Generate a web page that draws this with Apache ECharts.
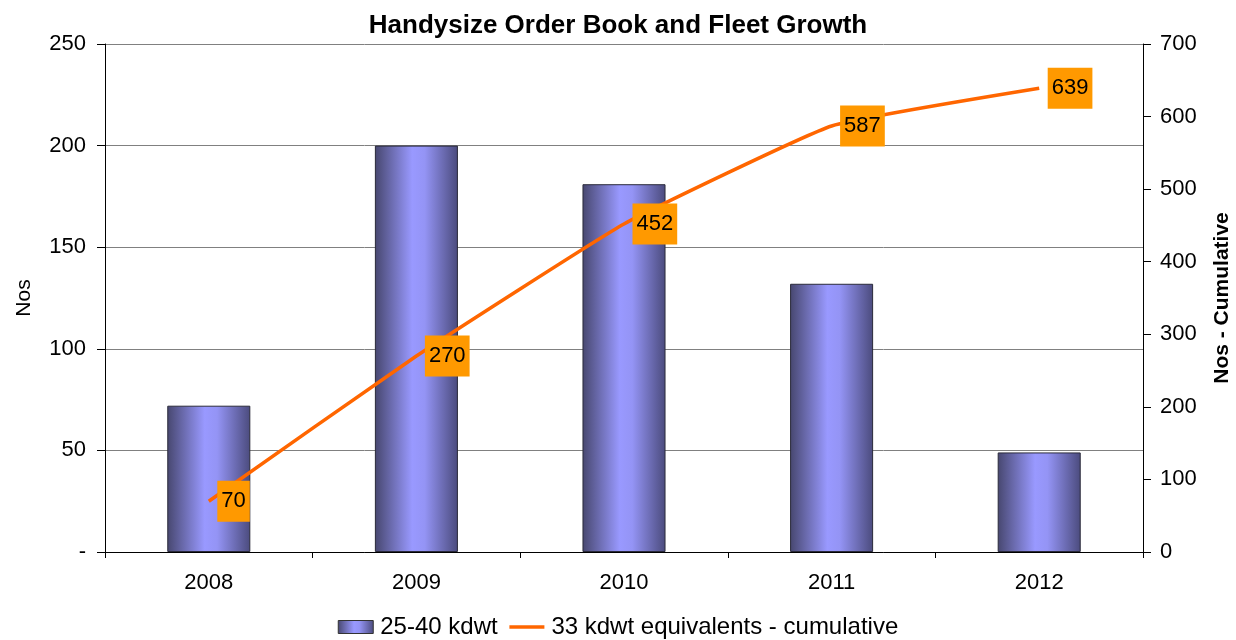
<!DOCTYPE html>
<html lang="en">
<head>
    <meta charset="UTF-8">
    <title>Handysize Order Book and Fleet Growth</title>
    <script src="https://cdn.jsdelivr.net/npm/echarts@6/dist/echarts.min.js"></script>
    <style>
        html, body { margin: 0; padding: 0; background: #fff; }
        #main { width: 1236px; height: 640px; }
    </style>
</head>
<body>
    <div id="main"></div>
    <script>
        var years = ['2008', '2009', '2010', '2011', '2012'];
        var orderBook = [72, 200, 181, 132, 49];
        var cumulative = [70, 270, 452, 587, 639];
        var leftTicks = ['-', '50', '100', '150', '200', '250'];

        var font = '"Liberation Sans", Arial, sans-serif';

        var barFill = new echarts.graphic.LinearGradient(0, 0, 1, 0, [
            { offset: 0, color: '#47476f' },
            { offset: 0.45, color: '#9999ff' },
            { offset: 0.6, color: '#9494f5' },
            { offset: 1, color: '#4b4b7d' }
        ]);

        var myChart = echarts.init(document.getElementById('main'));
        var option = {
            animation: false,
            textStyle: { fontFamily: font },
            title: {
                text: 'Handysize Order Book and Fleet Growth',
                left: 'center',
                top: 8,
                textStyle: { fontSize: 26, fontWeight: 'bold', color: '#000', fontFamily: font }
            },
            legend: {
                top: 610,
                left: 'center',
                itemGap: 10,
                itemWidth: 35,
                itemHeight: 13,
                textStyle: { fontSize: 24, color: '#000', fontFamily: font, padding: [0, 0, 0, 2] },
                data: [
                    { name: '25-40 kdwt', icon: 'rect', itemStyle: { color: barFill, borderColor: '#333', borderWidth: 1 } },
                    {
                        name: '33 kdwt equivalents - cumulative',
                        itemStyle: { color: 'rgba(0,0,0,0)', borderWidth: 0, opacity: 0 },
                        lineStyle: { color: '#ff6600', width: 3.5 }
                    }
                ]
            },
            grid: { left: 105, right: 93, top: 44, bottom: 88, outerBoundsMode: 'none' },
            xAxis: {
                type: 'category',
                data: years,
                axisLine: { lineStyle: { color: '#000', width: 1 } },
                axisTick: { show: true, length: 6, lineStyle: { color: '#000' } },
                axisLabel: { fontSize: 22, color: '#000', margin: 20 }
            },
            yAxis: [{
                type: 'value',
                min: 0,
                max: 250,
                interval: 50,
                name: 'Nos',
                nameLocation: 'middle',
                nameGap: 70,
                nameRotate: 90,
                nameTextStyle: { fontSize: 21, color: '#000' },
                axisLine: { show: true, lineStyle: { color: '#000' } },
                axisTick: { show: true, length: 8, lineStyle: { color: '#000' } },
                axisLabel: {
                    fontSize: 22, color: '#000', margin: 19,
                    formatter: function (v) { return leftTicks[v / 50]; }
                },
                splitLine: { show: true, lineStyle: { color: '#808080', width: 1 } }
            }, {
                type: 'value',
                min: 0,
                max: 700,
                interval: 100,
                name: 'Nos - Cumulative',
                nameLocation: 'middle',
                nameGap: 69,
                nameRotate: 90,
                nameTextStyle: { fontSize: 21, color: '#000', fontWeight: 'bold' },
                axisLine: { show: true, lineStyle: { color: '#000' } },
                axisTick: { show: true, length: 8, lineStyle: { color: '#000' } },
                axisLabel: { fontSize: 22, color: '#000', margin: 17 },
                splitLine: { show: false }
            }],
            series: [{
                name: '25-40 kdwt',
                type: 'bar',
                data: orderBook,
                barWidth: '40%',
                itemStyle: { color: barFill, borderColor: '#2a2a3a', borderWidth: 1 }
            }, {
                name: '33 kdwt equivalents - cumulative',
                type: 'line',
                yAxisIndex: 1,
                data: cumulative,
                smooth: 0.12,
                symbol: 'none',
                lineStyle: { color: '#ff6600', width: 3.5 },
                itemStyle: { color: '#ff6600' }
            }, {
                name: 'labels',
                type: 'scatter',
                yAxisIndex: 1,
                data: cumulative,
                symbolSize: 1,
                itemStyle: { color: 'rgba(0,0,0,0)', opacity: 1 },
                silent: true,
                z: 5,
                label: {
                    show: true,
                    position: 'right',
                    distance: 8,
                    fontSize: 22,
                    color: '#000',
                    backgroundColor: '#ff9900',
                    padding: [10, 4, 9, 4]
                }
            }]
        };
        myChart.setOption(option);
    </script>
</body>
</html>
